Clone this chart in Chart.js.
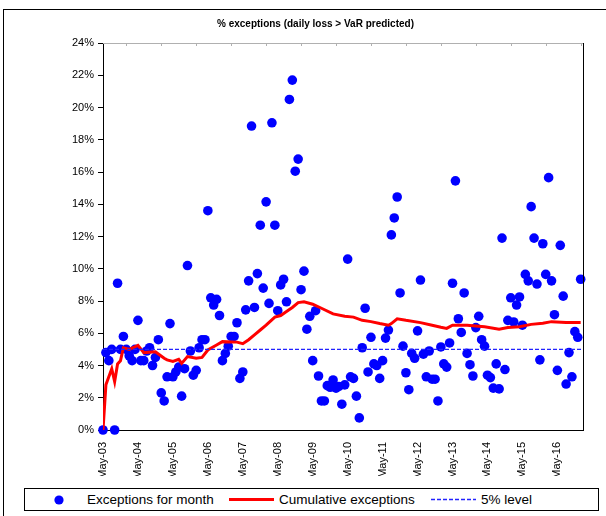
<!DOCTYPE html>
<html>
<head>
<meta charset="utf-8">
<script src="https://cdn.jsdelivr.net/npm/chart.js@4.4.1/dist/chart.umd.min.js"></script>
<style>
  html, body { margin: 0; padding: 0; background: #fff; }
  #wrap { position: relative; width: 606px; height: 516px; overflow: hidden; font-family: "Liberation Sans", Arial, sans-serif; }
  #frame { position: absolute; left: 3px; top: 9px; width: 700px; height: 600px; border-left: 1px solid #000; border-top: 1px solid #000; }
  #chart { position: absolute; left: 0; top: 0; }
  #legend { position: absolute; left: 24px; top: 488px; width: 573px; height: 21px; border: 1px solid #000; background: #fff; font-size: 13.5px; color: #000; }
  .item { position: absolute; top: 0; height: 21px; line-height: 21px; white-space: nowrap; }
</style>
</head>
<body>
<div id="wrap">
  <div id="frame"></div>
  <canvas id="chart" width="606" height="516"></canvas>
  <div id="legend">
    <svg class="item" style="left:28px" width="12" height="21"><circle cx="6" cy="11" r="4.6" fill="#0000ff"/></svg>
    <span class="item" style="left:62px">Exceptions for month</span>
    <svg class="item" style="left:204px" width="46" height="21"><line x1="0" y1="10.5" x2="45" y2="10.5" stroke="#ff0000" stroke-width="3"/></svg>
    <span class="item" style="left:254px">Cumulative exceptions</span>
    <svg class="item" style="left:406px" width="46" height="21"><line x1="0" y1="10.5" x2="45" y2="10.5" stroke="#2222ff" stroke-width="1.3" stroke-dasharray="4,2"/></svg>
    <span class="item" style="left:456px">5% level</span>
  </div>
</div>
<script>
// Tick labels (one every 12 months, starting May-03)
const tickLabels = ['May-03', 'May-04', 'May-05', 'May-06', 'May-07', 'May-08', 'May-09',
    'May-10', 'May-11', 'May-12', 'May-13', 'May-14', 'May-15', 'May-16'];

// Exceptions for month (%), one value per month from May-03
const monthlyPct = [
    0, 4.8, 4.3, 5.0, 0, 9.1, 5.0, 5.8, 5.0, 4.6,
    4.3, 5.0, 6.8, 4.3, 4.3, 4.9, 5.1, 4.0, 4.5, 5.6,
    2.3, 1.8, 3.3, 6.6, 3.3, 3.6, 3.9, 2.1, 3.8, 10.2,
    4.9, 3.4, 3.7, 5.1, 5.6, 5.6, 13.6, 8.2, 7.75, 8.1,
    7.1, 4.3, 4.75, 5.2, 5.8, 5.8, 6.65, 3.2, 3.6, 7.45,
    9.25, 18.85, 7.6, 9.7, 12.7, 8.8, 14.15, 7.85, 19.05, 12.7,
    7.4, 9.0, 9.35, 7.95, 20.5, 21.7, 16.05, 16.8, 8.7, 9.85,
    6.25, 7.05, 4.3, 7.4, 3.35, 1.8, 1.8, 2.75, 2.65, 3.1,
    2.6, 2.7, 1.6, 2.8, 10.6, 3.3, 3.2, 2.1, 0.75, 5.1,
    7.55, 3.6, 5.75, 4.1, 4.0, 3.2, 4.3, 5.7, 6.2, 12.1,
    13.15, 14.45, 8.5, 5.2, 3.55, 2.5, 4.75, 4.45, 6.15, 9.3,
    4.7, 3.3, 4.9, 3.15, 3.15, 1.8, 5.15, 4.1, 3.9, 5.4,
    9.1, 15.45, 6.9, 6.05, 8.5, 4.75, 4.05, 3.35, 6.35, 7.05,
    5.6, 5.2, 3.4, 3.25, 2.6, 4.1, 2.55, 11.9, 3.75, 6.8,
    8.2, 6.7, 7.75, 8.25, 6.5, 9.65, 9.25, 13.85, 11.9, 9.05,
    4.35, 11.55, 9.65, 15.65, 9.25, 7.15, 3.7, 11.45, 8.3, 2.85,
    4.8, 3.3, 6.1, 5.75, 9.35
];

// Cumulative exceptions (%), read at these month positions
const cumMonth = [0, 1, 3, 4, 5, 6, 7, 9, 12, 14, 18, 21, 22, 24, 26, 27, 29, 32, 34, 36,
    39, 41, 46, 48, 50, 52, 54, 56, 59, 61, 63, 65, 67, 69, 72, 75, 79, 83, 86, 89,
    92, 95, 98, 99, 101, 104, 109, 113, 116, 118, 120, 125, 131, 136, 139, 143, 147, 151, 154, 159, 164];
const cumPct = [0, 2.8, 3.8, 3.0, 4.1, 4.3, 5.1, 5.0, 5.25, 4.8, 4.85, 4.45, 4.35, 4.25, 4.38, 4.13, 4.55, 4.45, 4.5, 4.96,
    5.27, 5.48, 5.45, 5.35, 5.6, 5.9, 6.2, 6.5, 7.0, 7.1, 7.35, 7.6, 7.9, 7.95, 7.8, 7.55, 7.2, 7.05, 7.0, 6.8,
    6.72, 6.6, 6.5, 6.6, 6.9, 6.8, 6.66, 6.5, 6.37, 6.3, 6.5, 6.5, 6.4, 6.25, 6.35, 6.4, 6.55, 6.62, 6.72, 6.66, 6.66];

// 5% level
const levelPct = 5;

const xMax = 164.8;
const fontFamily = '"Liberation Sans", Arial, sans-serif';

// Plot frame: light top edge, dark right edge, small January marks on top
const framePlugin = {
    id: 'framePlugin',
    afterDraw(chart) {
        const ctx = chart.ctx;
        const a = chart.chartArea;
        const xs = chart.scales.x;
        ctx.save();
        ctx.lineWidth = 1;
        ctx.strokeStyle = '#b0b0b0';
        ctx.beginPath();
        ctx.moveTo(a.left, a.top + 0.5);
        ctx.lineTo(a.right, a.top + 0.5);
        for (let m = 8; m < xMax; m += 12) {
            const px = Math.round(xs.getPixelForValue(m)) + 0.5;
            ctx.moveTo(px, a.top);
            ctx.lineTo(px, a.top + 3);
        }
        ctx.stroke();
        ctx.strokeStyle = '#000';
        ctx.beginPath();
        ctx.moveTo(a.right + 0.5, a.top);
        ctx.lineTo(a.right + 0.5, a.bottom);
        ctx.stroke();
        ctx.restore();
    }
};

new Chart(document.getElementById('chart'), {
    type: 'scatter',
    data: {
        datasets: [{
            label: 'Exceptions for month',
            data: monthlyPct.map((v, i) => ({ x: i, y: v })),
            backgroundColor: '#0000ff',
            borderWidth: 0,
            pointRadius: 4.8,
            showLine: false,
            clip: false,
            order: 3
        }, {
            label: 'Cumulative exceptions',
            data: cumMonth.map((m, i) => ({ x: m, y: cumPct[i] })),
            borderColor: '#ff0000',
            borderWidth: 3,
            pointRadius: 0,
            showLine: true,
            tension: 0,
            order: 2
        }, {
            label: '5% level',
            data: [{ x: 0, y: levelPct }, { x: xMax, y: levelPct }],
            borderColor: '#2222ff',
            borderWidth: 1.3,
            borderDash: [4, 2],
            pointRadius: 0,
            showLine: true,
            order: 1
        }]
    },
    options: {
        responsive: false,
        animation: false,
        layout: { padding: { left: 48, right: 23, top: 0, bottom: 40 } },
        plugins: {
            legend: { display: false },
            tooltip: { enabled: false },
            title: {
                display: true,
                text: '% exceptions (daily loss > VaR predicted)',
                color: '#000',
                font: { family: fontFamily, size: 10, weight: 'bold' },
                padding: { top: 18, bottom: 13 }
            }
        },
        scales: {
            x: {
                type: 'linear',
                min: 0,
                max: xMax,
                afterBuildTicks: (s) => { s.ticks = tickLabels.map((t, i) => ({ value: i * 12 })); },
                afterFit: (s) => { s.height = 46; },
                ticks: {
                    autoSkip: false,
                    maxRotation: 90,
                    minRotation: 90,
                    padding: 4,
                    color: '#000',
                    font: { family: fontFamily, size: 11 },
                    callback: (v) => tickLabels[Math.round(v / 12)]
                },
                grid: { display: false },
                border: { display: true, color: '#000', width: 1 }
            },
            y: {
                min: 0,
                max: 24,
                afterFit: (s) => { s.width = 55; },
                ticks: {
                    stepSize: 2,
                    padding: 4,
                    color: '#000',
                    font: { family: fontFamily, size: 11 },
                    callback: (v) => v + '%'
                },
                grid: { drawOnChartArea: false, drawTicks: true, tickLength: 5, color: '#000' },
                border: { display: true, color: '#000', width: 1 }
            }
        }
    },
    plugins: [framePlugin]
});
</script>
</body>
</html>
